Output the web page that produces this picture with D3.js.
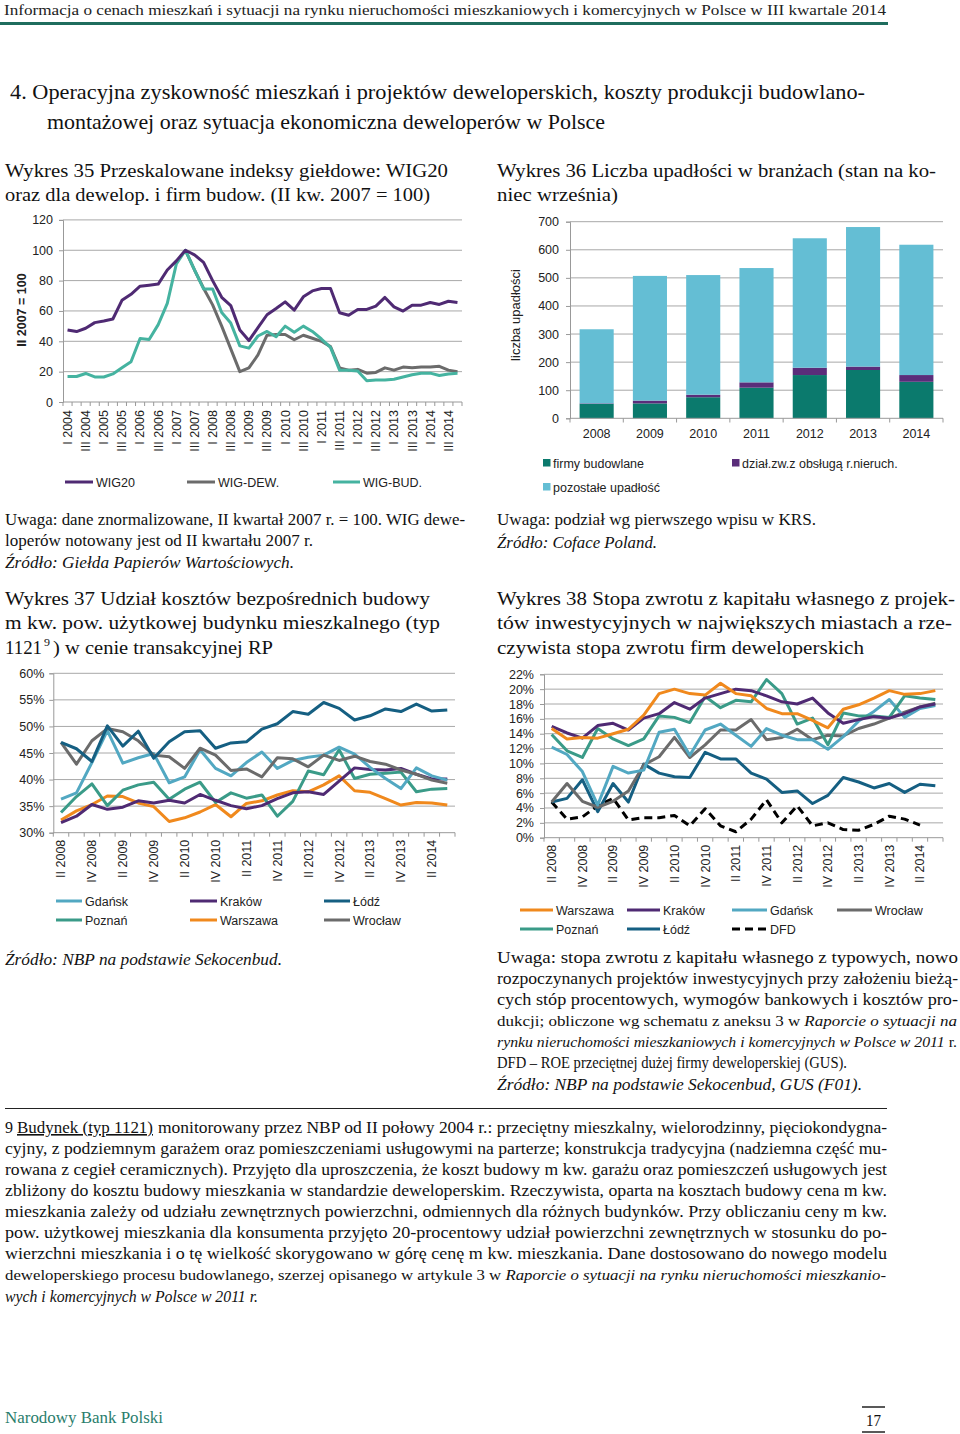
<!DOCTYPE html>
<html><head><meta charset="utf-8">
<script src="https://cdn.jsdelivr.net/npm/d3@7"></script>
<style>body{margin:0;background:#fff}svg{display:block}</style>
</head><body><svg id="page" width="960" height="1434"></svg>
<script>
// ---------------- DATA ----------------
const c35Cats = ["I 2004","II 2004","III 2004","IV 2004","I 2005","II 2005","III 2005","IV 2005","I 2006","II 2006","III 2006","IV 2006","I 2007","II 2007","III 2007","IV 2007","I 2008","II 2008","III 2008","IV 2008","I 2009","II 2009","III 2009","IV 2009","I 2010","II 2010","III 2010","IV 2010","I 2011","II 2011","III 2011","IV 2011","I 2012","II 2012","III 2012","IV 2012","I 2013","II 2013","III 2013","IV 2013","I 2014","II 2014","III 2014","IV 2014"];
const c35Labels = ["I 2004","III 2004","I 2005","III 2005","I 2006","III 2006","I 2007","III 2007","I 2008","III 2008","I 2009","III 2009","I 2010","III 2010","I 2011","III 2011","I 2012","III 2012","I 2013","III 2013","I 2014","III 2014"];
const c35Ticks = [0,20,40,60,80,100,120];
const wig20 = [47.5,46.4,48.6,52.3,53.4,54.7,67,71,76.3,77,77.7,87,93,100,97,92,80,69,63.5,47.5,40.5,49,57.5,61.6,66,60.5,69.3,73.2,74.8,74.8,58.8,57.2,61,61,63.2,68.9,62.7,59.9,63.8,63.8,65.6,64.3,66.4,65.6];
const wigDew = [null,null,null,null,null,null,null,null,null,null,null,null,null,100,87,75,64,50,35,20,22.5,31,44,44.5,44.5,41,44,42,40,36.5,22.5,21,21.5,19,19.5,22.5,21,23,22.5,23,23,23.5,21,20];
const wigBud = [16.8,16.8,18.8,16.5,16.5,18.5,22.5,26.5,41.8,41.2,51,65,91,100,87,74.5,74.5,59,52,37,35.5,43.5,46.5,43,50,46,50,46.5,41.5,36,21,21,20.5,14,14.5,14.5,15,16.5,18,19,19,17.5,18.5,19];

const c36Years = ["2008","2009","2010","2011","2012","2013","2014"];
const c36Ticks = [0,100,200,300,400,500,600,700];
const firmyBudowlane = [51,53,75,109,154,172,130];
const dzialNieruch = [2,10,9,19,26,12,24];
const pozostale = [264,444,426,407,461,497,464];

const qCats = ["II 2008","III 2008","IV 2008","I 2009","II 2009","III 2009","IV 2009","I 2010","II 2010","III 2010","IV 2010","I 2011","II 2011","III 2011","IV 2011","I 2012","II 2012","III 2012","IV 2012","I 2013","II 2013","III 2013","IV 2013","I 2014","II 2014","III 2014"];
const qLabels = ["II 2008","IV 2008","II 2009","IV 2009","II 2010","IV 2010","II 2011","IV 2011","II 2012","IV 2012","II 2013","IV 2013","II 2014"];

const c37Ticks = [30,35,40,45,50,55,60];
const gdansk37 = [36.3,37.5,43.2,49.2,43.1,44.1,44.9,39.4,40.5,45.6,42.1,40.7,43.2,45.2,42.1,43.6,44.2,44.6,46.1,44.8,42.3,40.2,38.3,42.2,40.7,39.9];
const krakow37 = [31.9,33.1,35.3,34.4,34.8,36,35.6,36.1,35.6,37.2,36.1,35.1,34.5,35.1,36.4,37.5,37.7,37.2,39.7,42.2,41.9,41.8,42.1,41,40.1,40.1];
const lodz37 = [47,45.8,43.4,50.1,46.3,49.1,44,47.1,49,49.2,45.9,46.9,47.1,49.5,50.5,52.8,52.3,54.5,53.4,51.2,52,53.3,52.8,54.2,52.9,53.1];
const poznan37 = [33.8,36.8,39.2,35.1,38,39,39.5,36.3,38.2,39.5,35.7,37.5,36.5,37.1,33.1,35.9,41.6,40.9,45.6,40.2,41,41.2,41.4,37.7,38.2,38.3];
const warszawa37 = [32.4,34.1,35.3,36.9,36.8,35.6,34.9,32.1,32.8,33.9,35.3,33,35.5,36,37.1,37.9,37.7,39,40.7,37.9,37.6,36.4,35.2,35.7,35.6,35.2];
const wroclaw37 = [47,42.9,47.3,49.6,49,47.3,44.6,44.3,42.1,45.9,44.6,41.7,42,40.5,44.1,43.9,42.4,44.6,43.6,44.4,43.4,42.9,41.8,41,39.9,39.3];

const c38Ticks = [0,2,4,6,8,10,12,14,16,18,20,22];
const warszawa38 = [14.7,13.3,13.5,13.4,14,14.6,16.5,19.4,20,19.4,19.2,20.8,19.4,19.1,17.4,16.7,16.7,15.8,14.8,17.3,17.9,18.8,19.8,19.3,19.4,19.8];
const krakow38 = [15,14.1,13.4,15.1,15.4,14.5,16.1,16.7,18.2,17.3,18.8,19.4,20,19.8,19.1,18.3,18,18.8,16.8,15.4,15.9,16.3,16.1,16.7,17.6,18];
const gdansk38 = [12.2,11.2,8.9,4.4,9.6,8.7,9.1,14.2,14.6,11.1,14.5,15.3,13.8,12.3,14.7,13.8,13.2,13.2,11.9,13.6,15.7,17,18.6,16.2,17.4,17.8];
const wroclaw38 = [4.8,7.3,4.9,4.1,4.9,6.3,9.8,10.9,13.5,10.8,12.5,14.5,14.5,15.9,13.2,13.5,14.6,13.2,13.8,13.7,14.7,15.3,16.1,16.9,17.6,18.1];
const poznan38 = [13.9,11.7,10.8,14.7,13.3,12.4,13.3,16.4,16.2,15.5,19,17.5,18.5,18.3,21.3,19.4,15.3,16.1,12.5,16.8,16.4,16.4,16.2,19.1,18.8,18.6];
const lodz38 = [4.8,5.3,7.8,3.5,7.3,4.8,9.9,8.7,8.2,8.1,11.5,10.6,10.6,8.7,7.9,6.1,6.3,4.6,5.7,8.1,7.5,6.7,7.3,6.1,7.2,7];
const dfd38 = [4.8,2.5,2.8,4.3,5.3,2.4,2.7,2.7,3.0,1.6,3.9,1.6,0.8,2.5,5.1,2.0,4.3,1.6,2.0,1.1,1.0,1.8,2.9,2.5,1.7,null];

// ---------------- HELPERS ----------------
const svg = d3.select('#page');
const SERIF = "'Liberation Serif','DejaVu Serif',serif";
const SANS = "'Liberation Sans',Arial,sans-serif";
const COL = {purple:'#4f2a73', gray:'#6b6b6b', teal:'#45b3a0', gdansk:'#52a8c2', lodz:'#155f82',
  poznan:'#3a9b88', warszawa:'#f0891d', firmy:'#0b7a6d', dzial:'#5a2d7a', pozost:'#64bed4'};

function T(x, y, s, o = {}) {
  const t = svg.append('text').attr('x', x).attr('y', y).text(s)
    .attr('font-family', o.ff || SERIF).attr('font-size', o.fs || 16)
    .attr('fill', o.fill || '#111');
  if (o.it) t.attr('font-style', 'italic');
  if (o.bold) t.attr('font-weight', 'bold');
  if (o.ul) t.attr('text-decoration', 'underline');
  if (o.x2) t.attr('textLength', o.x2 - x).attr('lengthAdjust', 'spacingAndGlyphs');
  if (o.anchor) t.attr('text-anchor', o.anchor);
  return t;
}
// mixed-style line: parts = [[string, italic], ...]
function TM(x, y, x2, parts, fs) {
  const t = svg.append('text').attr('x', x).attr('y', y).attr('font-family', SERIF).attr('font-size', fs || 16)
    .attr('fill', '#111').attr('textLength', x2 - x).attr('lengthAdjust', 'spacingAndGlyphs');
  parts.forEach(([s, it]) => t.append('tspan').attr('font-style', it ? 'italic' : 'normal').text(s));
  return t;
}

function lineChart(cfg) {
  const g = svg.append('g');
  const x = d3.scaleBand().domain(cfg.cats).range([cfg.x0, cfg.x1]);
  const y = d3.scaleLinear().domain(cfg.domain).range([cfg.yBot, cfg.yTop]);
  const bw = x.bandwidth();
  cfg.ticks.forEach(t => {
    if (t !== cfg.domain[0]) g.append('line').attr('x1', cfg.x0).attr('x2', cfg.x1)
      .attr('y1', y(t)).attr('y2', y(t)).attr('stroke', '#a8a8a8').attr('stroke-width', 1);
  });
  const ya = g.append('g').attr('transform', `translate(${cfg.x0},0)`)
    .call(d3.axisLeft(y).tickValues(cfg.ticks).tickSize(4).tickPadding(cfg.tickPad || 5).tickFormat(cfg.fmt));
  ya.select('.domain').attr('stroke', '#999');
  ya.selectAll('.tick line').attr('stroke', '#999');
  ya.selectAll('text').attr('font-family', SANS).attr('font-size', 12.5).attr('fill', '#222');
  g.append('line').attr('x1', cfg.x0).attr('x2', cfg.x1).attr('y1', cfg.yBot).attr('y2', cfg.yBot).attr('stroke', '#999');
  cfg.cats.forEach(c => g.append('line').attr('x1', x(c)).attr('x2', x(c)).attr('y1', cfg.yBot).attr('y2', cfg.yBot + 4).attr('stroke', '#999'));
  g.append('line').attr('x1', cfg.x1).attr('x2', cfg.x1).attr('y1', cfg.yBot).attr('y2', cfg.yBot + 4).attr('stroke', '#999');
  cfg.labels.forEach(l => {
    g.append('text').attr('transform', `translate(${x(l) + bw / 2},${cfg.yBot + cfg.labTop}) rotate(-90)`)
      .attr('text-anchor', 'end').attr('dy', '0.35em').attr('font-family', SANS).attr('font-size', 12.5)
      .attr('fill', '#222').text(l);
  });
  const line = d3.line().defined(d => d != null).x((d, i) => x(cfg.cats[i]) + bw / 2).y(d => y(d));
  cfg.series.forEach(s => {
    const p = g.append('path').datum(s.v).attr('d', line).attr('fill', 'none')
      .attr('stroke', s.c).attr('stroke-width', 3).attr('stroke-linejoin', 'round');
    if (s.dash) p.attr('stroke-dasharray', s.dash).attr('stroke-width', 3);
  });
  return {x, y};
}

function legendItem(x1, x2, y, color, label, dash) {
  const l = svg.append('line').attr('x1', x1).attr('x2', x2).attr('y1', y).attr('y2', y)
    .attr('stroke', color).attr('stroke-width', 3);
  if (dash) l.attr('stroke-dasharray', dash);
  T(x2 + 3, y + 4.5, label, {ff: SANS, fs: 12.5, fill: '#222'});
}

// ---------------- PAGE TEXT ----------------
T(4, 15, 'Informacja o cenach mieszkań i sytuacji na rynku nieruchomości mieszkaniowych i komercyjnych w Polsce w III kwartale 2014', {fs: 15, x2: 886, fill: '#222'});
svg.append('rect').attr('x', 0).attr('y', 22).attr('width', 888).attr('height', 3).attr('fill', '#1f6d5e');

T(10, 99, '4. Operacyjna zyskowność mieszkań i projektów deweloperskich, koszty produkcji budowlano-', {fs: 21, x2: 865});
T(47, 129, 'montażowej oraz sytuacja ekonomiczna deweloperów w Polsce', {fs: 21, x2: 605});

T(5, 177, 'Wykres 35 Przeskalowane indeksy giełdowe: WIG20', {fs: 18.5, x2: 448});
T(5, 201, 'oraz dla dewelop. i firm budow. (II kw. 2007 = 100)', {fs: 18.5, x2: 430});
T(497, 177, 'Wykres 36 Liczba upadłości w branżach (stan na ko-', {fs: 18.5, x2: 936});
T(497, 201, 'niec września)', {fs: 18.5, x2: 618});

T(5, 525, 'Uwaga: dane znormalizowane, II kwartał 2007 r. = 100. WIG dewe-', {fs: 16, x2: 465});
T(5, 546, 'loperów notowany jest od II kwartału 2007 r.', {fs: 16, x2: 313});
T(5, 568, 'Źródło: Giełda Papierów Wartościowych.', {fs: 16, x2: 294, it: true});
T(497, 525, 'Uwaga: podział wg pierwszego wpisu w KRS.', {fs: 16, x2: 816});
T(497, 548, 'Źródło: Coface Poland.', {fs: 16, x2: 657, it: true});

T(5, 605, 'Wykres 37 Udział kosztów bezpośrednich budowy', {fs: 18.5, x2: 430});
T(5, 629, 'm kw. pow. użytkowej budynku mieszkalnego (typ', {fs: 18.5, x2: 440});
T(5, 654, '1121', {fs: 18.5, x2: 42});
T(44, 646, '9', {fs: 11, x2: 50});
T(53, 654, ') w cenie transakcyjnej RP', {fs: 18.5, x2: 273});
T(497, 605, 'Wykres 38 Stopa zwrotu z kapitału własnego z projek-', {fs: 18.5, x2: 955});
T(497, 629, 'tów inwestycyjnych w największych miastach a rze-', {fs: 18.5, x2: 952});
T(497, 654, 'czywista stopa zwrotu firm deweloperskich', {fs: 18.5, x2: 864});

T(5, 965, 'Źródło: NBP na podstawie Sekocenbud.', {fs: 16, x2: 282, it: true});

T(497, 963, 'Uwaga: stopa zwrotu z kapitału własnego z typowych, nowo', {fs: 16, x2: 958});
T(497, 984, 'rozpoczynanych projektów inwestycyjnych przy założeniu bieżą-', {fs: 16, x2: 958});
T(497, 1005, 'cych stóp procentowych, wymogów bankowych i kosztów pro-', {fs: 16, x2: 958});
TM(497, 1026, 957, [['dukcji; obliczone wg schematu z aneksu 3 w ', false], ['Raporcie o sytuacji na', true]], 15);
TM(497, 1047, 957, [['rynku nieruchomości mieszkaniowych i komercyjnych w Polsce w 2011', true], [' r.', false]], 15);
T(497, 1068, 'DFD – ROE przeciętnej dużej firmy deweloperskiej (GUS).', {fs: 16, x2: 847});
T(497, 1090, 'Źródło: NBP na podstawie Sekocenbud, GUS (F01).', {fs: 16, x2: 862, it: true});

svg.append('line').attr('x1', 5).attr('x2', 887).attr('y1', 1108.5).attr('y2', 1108.5).attr('stroke', '#222').attr('stroke-width', 1.2);

T(5, 1133, '9', {fs: 16, x2: 13});
T(17, 1133, 'Budynek (typ 1121)', {fs: 16, x2: 153, ul: true});
T(158, 1133, 'monitorowany przez NBP od II połowy 2004 r.: przeciętny mieszkalny, wielorodzinny, pięciokondygna-', {fs: 16, x2: 887});
T(5, 1154, 'cyjny, z podziemnym garażem oraz pomieszczeniami usługowymi na parterze; konstrukcja tradycyjna (nadziemna część mu-', {fs: 16, x2: 887});
T(5, 1175, 'rowana z cegieł ceramicznych). Przyjęto dla uproszczenia, że koszt budowy m kw. garażu oraz pomieszczeń usługowych jest', {fs: 16, x2: 887});
T(5, 1196, 'zbliżony do kosztu budowy mieszkania w standardzie deweloperskim. Rzeczywista, oparta na kosztach budowy cena m kw.', {fs: 16, x2: 887});
T(5, 1217, 'mieszkania zależy od udziału zewnętrznych powierzchni, odmiennych dla różnych budynków. Przy obliczaniu ceny m kw.', {fs: 16, x2: 887});
T(5, 1238, 'pow. użytkowej mieszkania dla konsumenta przyjęto 20-procentowy udział powierzchni zewnętrznych w stosunku do po-', {fs: 16, x2: 887});
T(5, 1259, 'wierzchni mieszkania i o tę wielkość skorygowano w górę cenę m kw. mieszkania. Dane dostosowano do nowego modelu', {fs: 16, x2: 887});
TM(5, 1280, 886, [['deweloperskiego procesu budowlanego, szerzej opisanego w artykule 3 w ', false], ['Raporcie o sytuacji na rynku nieruchomości mieszkanio-', true]], 15);
T(5, 1302, 'wych i komercyjnych w Polsce w 2011 r.', {fs: 16, x2: 258, it: true});

T(5, 1423, 'Narodowy Bank Polski', {fs: 16.5, x2: 163, fill: '#2a7d6c'});
T(866, 1426, '17', {fs: 16, x2: 881});
svg.append('line').attr('x1', 862).attr('x2', 885).attr('y1', 1407).attr('y2', 1407).attr('stroke', '#222').attr('stroke-width', 1.5);
svg.append('line').attr('x1', 862).attr('x2', 885).attr('y1', 1432).attr('y2', 1432).attr('stroke', '#222').attr('stroke-width', 1.5);

// ---------------- CHART 35 ----------------
lineChart({cats: c35Cats, labels: c35Labels, x0: 63, x1: 462, yTop: 219.9, yBot: 402, domain: [0, 120],
  ticks: c35Ticks, fmt: d3.format('d'), labTop: 8, tickPad: 6,
  series: [{v: wigDew, c: COL.gray}, {v: wigBud, c: COL.teal}, {v: wig20, c: COL.purple}]});
svg.append('text').attr('transform', 'translate(26,310) rotate(-90)').attr('text-anchor', 'middle')
  .attr('font-family', SANS).attr('font-size', 12.5).attr('font-weight', 'bold').attr('fill', '#222').text('II 2007 = 100');
legendItem(65, 93, 482, COL.purple, 'WIG20');
legendItem(187, 215, 482, COL.gray, 'WIG-DEW.');
legendItem(333, 360, 482, COL.teal, 'WIG-BUD.');

// ---------------- CHART 36 ----------------
(function () {
  const g = svg.append('g');
  const x = d3.scaleBand().domain(c36Years).range([570, 943]).paddingInner(0.36).paddingOuter(0.18);
  const y = d3.scaleLinear().domain([0, 700]).range([418.3, 221.7]);
  c36Ticks.forEach(t => { if (t > 0) g.append('line').attr('x1', 570).attr('x2', 943).attr('y1', y(t)).attr('y2', y(t)).attr('stroke', '#a8a8a8'); });
  const ya = g.append('g').attr('transform', 'translate(570,0)')
    .call(d3.axisLeft(y).tickValues(c36Ticks).tickSize(4).tickPadding(7).tickFormat(d3.format('d')));
  ya.select('.domain').attr('stroke', '#999');
  ya.selectAll('.tick line').attr('stroke', '#999');
  ya.selectAll('text').attr('font-family', SANS).attr('font-size', 12.5).attr('fill', '#222');
  const rows = c36Years.map((yr, i) => ({yr, firmy: firmyBudowlane[i], dzial: dzialNieruch[i], poz: pozostale[i]}));
  const stack = d3.stack().keys(['firmy', 'dzial', 'poz'])(rows);
  const cols = {firmy: COL.firmy, dzial: COL.dzial, poz: COL.pozost};
  stack.forEach(layer => {
    g.selectAll(null).data(layer).enter().append('rect')
      .attr('x', d => x(d.data.yr)).attr('width', x.bandwidth())
      .attr('y', d => y(d[1])).attr('height', d => y(d[0]) - y(d[1])).attr('fill', cols[layer.key]);
  });
  g.append('line').attr('x1', 570).attr('x2', 943).attr('y1', 418.3).attr('y2', 418.3).attr('stroke', '#999');
  for (let i = 0; i <= c36Years.length; i++) {
    const xx = 570 + (943 - 570) * i / c36Years.length;
    g.append('line').attr('x1', xx).attr('x2', xx).attr('y1', 418.3).attr('y2', 422.5).attr('stroke', '#999');
  }
  c36Years.forEach(yr => T(x(yr) + x.bandwidth() / 2, 438, yr, {ff: SANS, fs: 12.5, anchor: 'middle', fill: '#222'}));
  svg.append('text').attr('transform', 'translate(520,315) rotate(-90)').attr('text-anchor', 'middle')
    .attr('font-family', SANS).attr('font-size', 13).attr('fill', '#222').text('liczba upadłości');
  [[543, 459, COL.firmy, 'firmy budowlane'], [732, 459, COL.dzial, 'dział.zw.z obsługą r.nieruch.'], [543, 483, COL.pozost, 'pozostałe upadłość']]
    .forEach(([lx, ly, c, lab]) => {
      svg.append('rect').attr('x', lx).attr('y', ly).attr('width', 7.5).attr('height', 7.5).attr('fill', c);
      T(lx + 10, ly + 8.5, lab, {ff: SANS, fs: 12.5, fill: '#222'});
    });
})();

// ---------------- CHART 37 ----------------
lineChart({cats: qCats, labels: qLabels, x0: 53.3, x1: 455, yTop: 673.3, yBot: 832.7, domain: [30, 60],
  ticks: c37Ticks, fmt: d => d + '%', labTop: 7, tickPad: 5,
  series: [{v: warszawa37, c: COL.warszawa}, {v: poznan37, c: COL.poznan}, {v: krakow37, c: COL.purple},
    {v: gdansk37, c: COL.gdansk}, {v: wroclaw37, c: COL.gray}, {v: lodz37, c: COL.lodz}]});
legendItem(56, 82, 901, COL.gdansk, 'Gdańsk');
legendItem(190, 217, 901, COL.purple, 'Kraków');
legendItem(324, 350, 901, COL.lodz, 'Łódź');
legendItem(56, 82, 920, COL.poznan, 'Poznań');
legendItem(190, 217, 920, COL.warszawa, 'Warszawa');
legendItem(324, 350, 920, COL.gray, 'Wrocław');

// ---------------- CHART 38 ----------------
lineChart({cats: qCats, labels: qLabels, x0: 544, x1: 943, yTop: 674.3, yBot: 837.7, domain: [0, 22],
  ticks: c38Ticks, fmt: d => d + '%', labTop: 7, tickPad: 6,
  series: [{v: dfd38, c: '#000', dash: '8,5'}, {v: lodz38, c: COL.lodz}, {v: wroclaw38, c: COL.gray},
    {v: gdansk38, c: COL.gdansk}, {v: poznan38, c: COL.poznan}, {v: krakow38, c: COL.purple}, {v: warszawa38, c: COL.warszawa}]});
legendItem(520, 553, 910, COL.warszawa, 'Warszawa');
legendItem(627, 660, 910, COL.purple, 'Kraków');
legendItem(732, 767, 910, COL.gdansk, 'Gdańsk');
legendItem(837, 872, 910, COL.gray, 'Wrocław');
legendItem(520, 553, 929, COL.poznan, 'Poznań');
legendItem(627, 660, 929, COL.lodz, 'Łódź');
legendItem(732, 767, 929, '#000', 'DFD', '8,5');
</script></body></html>
